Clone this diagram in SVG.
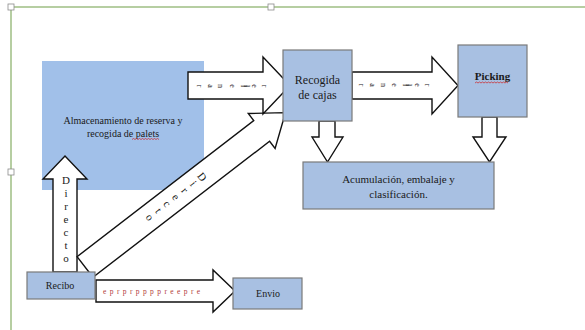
<svg xmlns="http://www.w3.org/2000/svg" width="585" height="330" viewBox="0 0 585 330">
  <style>
    .frame { stroke: #9fbf84; stroke-width: 1.5; fill: none; }
    .handle { fill: #ffffff; stroke: #8c8c8c; stroke-width: 0.8; }
    .box { fill: #a8c0e2; stroke: #7a7a7a; stroke-width: 1.2; }
    .store { fill: #a1c0e9; }
    .arrow { fill: #ffffff; stroke: #111111; stroke-width: 1.4; stroke-linejoin: miter; }
    .lbl { font-family: "Liberation Serif", "Times New Roman", serif; fill: #1a1a1a; text-anchor: middle; }
    .rot { font-family: "Liberation Serif", "Times New Roman", serif; fill: #222222; font-size: 8px; text-anchor: middle; }
    .up { font-family: "Liberation Serif", "Times New Roman", serif; fill: #1a1a1a; font-size: 11px; text-anchor: middle; }
    .red { font-family: "Liberation Serif", "Times New Roman", serif; fill: #b23a3a; font-size: 7.5px; }
    .squig { fill: none; stroke: #d02020; stroke-width: 0.7; }
  </style>

  <rect width="585" height="330" fill="#ffffff"/>

  <!-- page frame with selection handles -->
  <g id="frame">
    <path class="frame" d="M11,7 H585 M11,7 V330"/>
    <rect class="handle" x="8" y="4" width="6" height="6"/>
    <rect class="handle" x="268" y="4" width="6" height="6"/>
    <rect class="handle" x="8" y="169" width="6" height="6"/>
  </g>

  <g id="almacenamiento">
    <rect class="store" x="42" y="61" width="162" height="129"/>
    <text class="lbl" font-size="10" x="123" y="124">Almacenamiento de reserva y</text>
    <text class="lbl" font-size="10" x="123" y="137">recogida de palets</text>
    <path class="squig" d="M132,139.5 l1.5,-1 l1.5,1 l1.5,-1 l1.5,1 l1.5,-1 l1.5,1 l1.5,-1 l1.5,1 l1.5,-1 l1.5,1 l1.5,-1 l1.5,1 l1.5,-1 l1.5,1 l1.5,-1 l1.5,1 l1.5,-1 l1.5,1"/>
  </g>

  <!-- connectors (block arrows) -->
  <g id="connectors">
    <!-- Directo: Recibo up to reserve storage -->
    <g id="arrow-directo-up">
      <path class="arrow" d="M53,272 V179 H43 L65,156 L87,179 H77 V272 Z"/>
      <text class="up" x="66" y="184">D</text>
      <text class="up" x="66" y="197">i</text>
      <text class="up" x="66" y="210">r</text>
      <text class="up" x="66" y="223">e</text>
      <text class="up" x="66" y="236">c</text>
      <text class="up" x="66" y="249">t</text>
      <text class="up" x="66" y="262">o</text>
    </g>

    <!-- Directo: Recibo diagonally to case picking -->
    <g id="arrow-directo-diag" transform="translate(85,267) rotate(-37.6)">
      <path class="arrow" d="M0,-13 H223 V-22 L253,0 L223,22 V13 H0 Z"/>
      <g class="up" font-size="10">
        <text transform="translate(148,0) rotate(90)" dy="0.35em">D</text>
        <text transform="translate(137,0) rotate(90)" dy="0.35em">i</text>
        <text transform="translate(126,0) rotate(90)" dy="0.35em">r</text>
        <text transform="translate(115,0) rotate(90)" dy="0.35em">e</text>
        <text transform="translate(104,0) rotate(90)" dy="0.35em">c</text>
        <text transform="translate(93,0) rotate(90)" dy="0.35em">t</text>
        <text transform="translate(82,0) rotate(90)" dy="0.35em">o</text>
      </g>
    </g>

    <!-- rellenar: reserve storage to case picking -->
    <g id="arrow-rellenar-1">
      <path class="arrow" d="M188,72 H263 V57 L290,85.5 L263,114 V99 H188 Z"/>
      <text class="rot" transform="translate(265,86) rotate(90)" dy="0.35em">r</text>
      <text class="rot" transform="translate(255,86) rotate(90)" dy="0.35em">e</text>
      <text class="rot" transform="translate(247,86) rotate(90)" dy="0.35em">l</text>
      <text class="rot" transform="translate(243.5,86) rotate(90)" dy="0.35em">l</text>
      <text class="rot" transform="translate(233,86) rotate(90)" dy="0.35em">e</text>
      <text class="rot" transform="translate(221,86) rotate(90)" dy="0.35em">n</text>
      <text class="rot" transform="translate(211,86) rotate(90)" dy="0.35em">a</text>
      <text class="rot" transform="translate(200,86) rotate(90)" dy="0.35em">r</text>
    </g>

    <!-- rellenar: case picking to picking -->
    <g id="arrow-rellenar-2">
      <path class="arrow" d="M352,72 H432 V57 L458,85.5 L432,114 V99 H352 Z"/>
      <text class="rot" transform="translate(428,85) rotate(90)" dy="0.35em">r</text>
      <text class="rot" transform="translate(418,85) rotate(90)" dy="0.35em">e</text>
      <text class="rot" transform="translate(409,85) rotate(90)" dy="0.35em">l</text>
      <text class="rot" transform="translate(405.5,85) rotate(90)" dy="0.35em">l</text>
      <text class="rot" transform="translate(395,85) rotate(90)" dy="0.35em">e</text>
      <text class="rot" transform="translate(384,85) rotate(90)" dy="0.35em">n</text>
      <text class="rot" transform="translate(373,85) rotate(90)" dy="0.35em">a</text>
      <text class="rot" transform="translate(362,85) rotate(90)" dy="0.35em">r</text>
    </g>

    <!-- down arrows into accumulation -->
    <path id="arrow-cajas-down" class="arrow" d="M319,121 V137 H312 L327.5,162 L343,137 H335 V121 Z"/>
    <path id="arrow-picking-down" class="arrow" d="M482,117 V137 H473 L489.5,162 L506,137 H497 V117 Z"/>

    <!-- Recibo to Envio -->
    <g id="arrow-envio">
      <path class="arrow" d="M96,280 H213 V270 L235,291 L213,312 V302 H96 Z"/>
      <text class="red" x="103" y="293.5" letter-spacing="3.4">eprprppppreepre</text>
    </g>
  </g>

  <g id="recogida-cajas">
    <rect class="box" x="283" y="50" width="69" height="71"/>
    <text class="lbl" font-size="12" x="317.5" y="84">Recogida</text>
    <text class="lbl" font-size="12" x="317.5" y="99">de cajas</text>
  </g>

  <g id="picking">
    <rect class="box" x="458" y="45" width="69" height="72"/>
    <text class="lbl" font-size="11" font-weight="bold" x="492.5" y="80">Picking</text>
    <path class="squig" d="M475,83 l1.5,-1 l1.5,1 l1.5,-1 l1.5,1 l1.5,-1 l1.5,1 l1.5,-1 l1.5,1 l1.5,-1 l1.5,1 l1.5,-1 l1.5,1 l1.5,-1 l1.5,1 l1.5,-1 l1.5,1 l1.5,-1 l1.5,1 l1.5,-1 l1.5,1 l1.5,-1 l1.5,1"/>
  </g>

  <g id="acumulacion">
    <rect class="box" x="303" y="162" width="191" height="47"/>
    <text class="lbl" font-size="11" x="398.5" y="183">Acumulación, embalaje y</text>
    <text class="lbl" font-size="11" x="398.5" y="198">clasificación.</text>
  </g>

  <g id="recibo">
    <rect class="box" x="27" y="272" width="68" height="27"/>
    <text class="lbl" font-size="10" x="60" y="289">Recibo</text>
  </g>

  <g id="envio">
    <rect class="box" x="233" y="278" width="69" height="31"/>
    <text class="lbl" font-size="10" x="268" y="297">Envio</text>
  </g>
</svg>
